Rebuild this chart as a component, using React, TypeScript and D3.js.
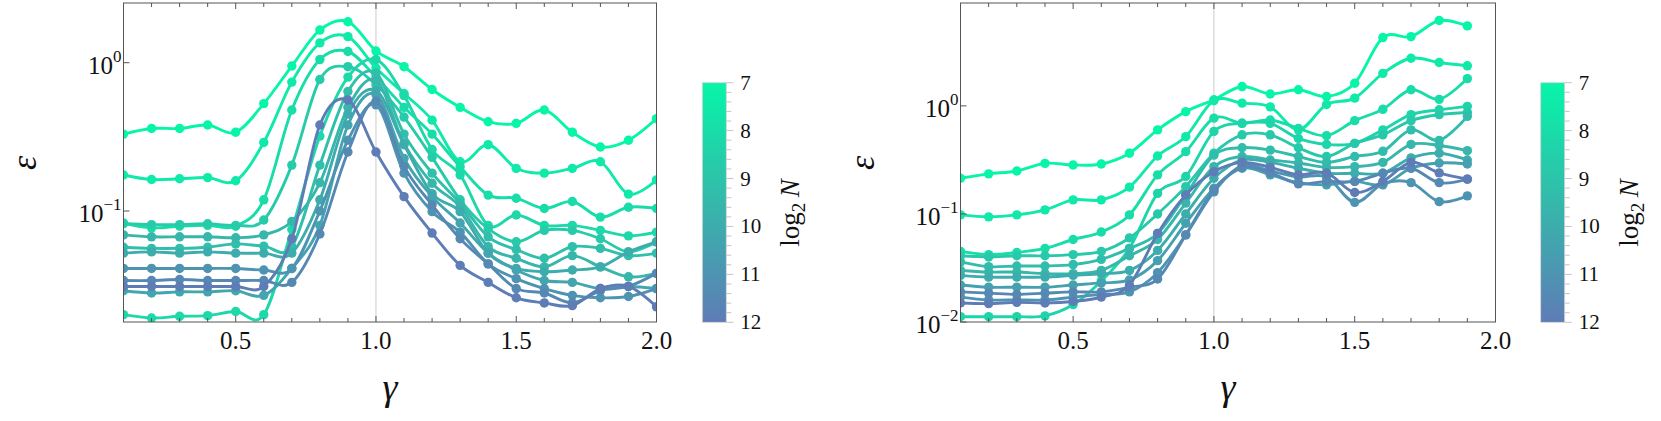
import React from "react";
import * as d3 from "d3";

// gamma grid of the two panels
const gammaLeft = [0.1, 0.2, 0.3, 0.4, 0.5, 0.6, 0.7, 0.8, 0.9, 1.0, 1.1, 1.2, 1.3, 1.4, 1.5, 1.6, 1.7, 1.8, 1.9, 2.0];
const gammaRight = [0.1, 0.2, 0.3, 0.4, 0.5, 0.6, 0.7, 0.8, 0.9, 1.0, 1.1, 1.2, 1.3, 1.4, 1.5, 1.6, 1.7, 1.8, 1.9];

// left panel, epsilon per curve
const leftA = [0.33, 0.36, 0.36, 0.38, 0.34, 0.53, 0.95, 1.66, 1.89, 1.2, 0.94, 0.66, 0.5, 0.4, 0.39, 0.48, 0.34, 0.27, 0.3, 0.42];
const leftB = [0.175, 0.163, 0.165, 0.168, 0.16, 0.29, 0.74, 1.36, 1.5, 0.92, 0.62, 0.41, 0.215, 0.28, 0.194, 0.18, 0.194, 0.215, 0.13, 0.162];
const leftC = [0.083, 0.077, 0.079, 0.08, 0.079, 0.119, 0.48, 1.05, 1.19, 0.8, 0.5, 0.33, 0.199, 0.128, 0.122, 0.104, 0.116, 0.091, 0.106, 0.104];
const leftD = [0.02, 0.019, 0.0195, 0.0197, 0.021, 0.02, 0.075, 0.32, 0.8, 1.05, 0.6, 0.26, 0.175, 0.08, 0.094, 0.08, 0.08, 0.074, 0.068, 0.072];
const leftE = [0.082, 0.081, 0.081, 0.082, 0.08, 0.087, 0.204, 0.77, 0.94, 0.71, 0.43, 0.23, 0.119, 0.076, 0.062, 0.074, 0.074, 0.065, 0.053, 0.062];
const leftF = [0.057, 0.056, 0.056, 0.057, 0.06, 0.058, 0.0575, 0.204, 0.64, 0.85, 0.33, 0.18, 0.113, 0.067, 0.055, 0.048, 0.0575, 0.056, 0.05, 0.052];
const leftG = [0.069, 0.067, 0.067, 0.067, 0.066, 0.069, 0.085, 0.155, 0.5, 0.76, 0.286, 0.154, 0.107, 0.0575, 0.048, 0.042, 0.05, 0.042, 0.036, 0.038];
const leftH = [0.052, 0.053, 0.052, 0.053, 0.052, 0.052, 0.052, 0.119, 0.45, 0.65, 0.28, 0.131, 0.099, 0.052, 0.041, 0.039, 0.04, 0.042, 0.053, 0.062];
const leftI = [0.029, 0.028, 0.0285, 0.0285, 0.029, 0.027, 0.041, 0.08, 0.38, 0.61, 0.226, 0.125, 0.083, 0.052, 0.04, 0.034, 0.033, 0.03, 0.031, 0.03];
const leftJ = [0.041, 0.041, 0.041, 0.041, 0.041, 0.04, 0.041, 0.1, 0.3, 0.52, 0.18, 0.099, 0.072, 0.044, 0.035, 0.03, 0.027, 0.026, 0.0265, 0.03];
const leftK = [0.034, 0.034, 0.0345, 0.034, 0.034, 0.034, 0.033, 0.07, 0.25, 0.55, 0.2, 0.11, 0.065, 0.044, 0.03, 0.028, 0.024, 0.029, 0.031, 0.038];
const leftL = [0.031, 0.031, 0.031, 0.031, 0.031, 0.031, 0.065, 0.38, 0.56, 0.25, 0.125, 0.071, 0.043, 0.033, 0.026, 0.024, 0.023, 0.03, 0.031, 0.0226];
const leftLog2N = [7, 7.5, 8, 8.2, 8.7, 9.2, 9.6, 10, 10.3, 11, 11.5, 12];

// right panel
const rightA = [0.214, 0.235, 0.25, 0.294, 0.284, 0.29, 0.365, 0.6, 0.885, 1.14, 1.51, 1.29, 1.41, 1.22, 1.62, 4.29, 4.38, 6.17, 5.5];
const rightB = [0.098, 0.094, 0.098, 0.109, 0.135, 0.135, 0.177, 0.344, 0.52, 1.12, 1.06, 0.98, 0.6, 1.03, 1.18, 2.0, 2.76, 2.52, 2.35];
const rightC = [0.045, 0.042, 0.044, 0.048, 0.058, 0.068, 0.098, 0.23, 0.377, 0.77, 0.69, 0.74, 0.62, 0.53, 0.73, 0.93, 1.41, 1.15, 1.79];
const rightD = [0.0112, 0.0112, 0.0112, 0.0114, 0.0145, 0.024, 0.048, 0.155, 0.222, 0.58, 0.69, 0.69, 0.5, 0.44, 0.45, 0.6, 0.83, 0.92, 0.99];
const rightE = [0.041, 0.04, 0.041, 0.041, 0.042, 0.045, 0.06, 0.1, 0.179, 0.365, 0.54, 0.54, 0.41, 0.34, 0.45, 0.54, 0.73, 0.83, 0.87];
const rightF = [0.036, 0.0325, 0.033, 0.033, 0.034, 0.038, 0.048, 0.066, 0.15, 0.35, 0.41, 0.39, 0.34, 0.3, 0.34, 0.38, 0.6, 0.48, 0.8];
const rightG = [0.03, 0.029, 0.029, 0.028, 0.028, 0.03, 0.041, 0.058, 0.126, 0.274, 0.34, 0.316, 0.296, 0.27, 0.274, 0.3, 0.44, 0.43, 0.385];
const rightH = [0.027, 0.026, 0.026, 0.026, 0.027, 0.028, 0.03, 0.046, 0.1, 0.214, 0.316, 0.3, 0.265, 0.238, 0.238, 0.238, 0.33, 0.365, 0.316];
const rightI = [0.022, 0.021, 0.021, 0.021, 0.022, 0.023, 0.0245, 0.037, 0.082, 0.173, 0.265, 0.23, 0.195, 0.186, 0.2, 0.186, 0.265, 0.296, 0.29];
const rightJ = [0.017, 0.016, 0.016, 0.016, 0.017, 0.018, 0.019, 0.0286, 0.064, 0.16, 0.28, 0.25, 0.22, 0.22, 0.128, 0.19, 0.195, 0.13, 0.147];
const rightK = [0.019, 0.0185, 0.018, 0.0185, 0.019, 0.019, 0.021, 0.025, 0.064, 0.167, 0.27, 0.24, 0.19, 0.2, 0.2, 0.238, 0.265, 0.195, 0.21];
const rightL = [0.015, 0.0148, 0.0152, 0.015, 0.0155, 0.017, 0.022, 0.066, 0.15, 0.246, 0.3, 0.27, 0.23, 0.24, 0.158, 0.2, 0.3, 0.24, 0.21];
const rightLog2N = [7, 7.5, 8, 8.3, 8.8, 9.3, 9.6, 10, 10.5, 11, 11.5, 12];

const xTicks = [0.5, 1.0, 1.5, 2.0];
const xTickLabels = ["0.5", "1.0", "1.5", "2.0"];
const leftYTicks = [1, 0.1];
const rightYTicks = [1, 0.1, 0.01];
const barTicks = [7, 8, 9, 10, 11, 12];

const serif = { fontFamily: "Liberation Serif" };
const plotTop = 3;
const plotBottom = 322;
const frame = "#555";

const color = d3.scaleLinear<string>()
    .domain([7, 9.5, 12])
    .range(["#06f5a8", "#35b8ab", "#5e7cb6"])
    .interpolate(d3.interpolateRgb);

function Panel({ id, gamma, series, log2N, x0, x1, yDomain, yTicks, epsX }: any) {
    const x = d3.scaleLinear().domain([0.1, 2.0]).range([x0, x1]);
    const y = d3.scaleLog().domain(yDomain).range([plotBottom, plotTop]);
    const line = d3.line<number>()
        .x((d, i) => x(gamma[i]))
        .y(d => y(d))
        .curve(d3.curveCatmullRom.alpha(0));

    return (
        <g>
            <clipPath id={"clip-" + id}>
                <rect x={x0} y={plotTop} width={x1 - x0} height={plotBottom - plotTop} />
            </clipPath>
            <line x1={x(1)} x2={x(1)} y1={plotTop} y2={plotBottom} stroke="#cccccc" strokeWidth={1} />
            <g clipPath={"url(#clip-" + id + ")"}>
                {series.map((s: number[], k: number) => {
                    const c = color(log2N[k]);
                    return (
                        <g key={k}>
                            <path d={line(s) || ""} fill="none" stroke={c} strokeWidth={2.9} strokeLinejoin="round" />
                            {s.map((d, i) => (
                                <circle key={i} cx={x(gamma[i])} cy={y(d)} r={4.7} fill={c} />
                            ))}
                        </g>
                    );
                })}
            </g>
            <rect x={x0} y={plotTop} width={x1 - x0} height={plotBottom - plotTop} fill="none" stroke={frame} strokeWidth={1} />
            {x.ticks(20).map(t => {
                const major = Math.abs(t * 2 - Math.round(t * 2)) < 1e-6;
                const len = major ? 6 : 4;
                return (
                    <g key={t}>
                        <line x1={x(t)} x2={x(t)} y1={plotBottom} y2={plotBottom - len} stroke={frame} />
                        <line x1={x(t)} x2={x(t)} y1={plotTop} y2={plotTop + len} stroke={frame} />
                    </g>
                );
            })}
            {xTicks.map((t, i) => (
                <text key={t} x={x(t)} y={349} textAnchor="middle" fontSize={25} fill="#111" style={serif}>
                    {xTickLabels[i]}
                </text>
            ))}
            {yTicks.map((t: number) => {
                const e = Math.round(Math.log10(t));
                return (
                    <g key={t}>
                        <line x1={x0} x2={x0 + 6} y1={y(t)} y2={y(t)} stroke={frame} />
                        <text x={x0 - 2} y={y(t) + 11} textAnchor="end" fontSize={25} fill="#111" style={serif}>
                            <tspan>10</tspan>
                            <tspan dy={-12} fontSize={17}>{e < 0 ? "\u2212" + (-e) : String(e)}</tspan>
                        </text>
                    </g>
                );
            })}
            <text transform={`translate(${epsX},163) rotate(-90)`} textAnchor="middle" fontSize={36}
                  fontStyle="italic" fill="#111" style={serif}>ε</text>
            <text x={x(1.05)} y={400} textAnchor="middle" fontSize={38} fontStyle="italic" fill="#111" style={serif}>γ</text>
        </g>
    );
}

function Colorbar({ id, bx }: any) {
    const bw = 24;
    const y = d3.scaleLinear().domain([7, 12]).range([82.7, 322.3]);
    const stops = y.ticks(10);
    return (
        <g>
            <defs>
                <linearGradient id={"grad-" + id} x1={0} x2={0} y1={0} y2={1}>
                    {stops.map(v => (
                        <stop key={v} offset={((v - 7) / 5) * 100 + "%"} stopColor={color(v)} />
                    ))}
                </linearGradient>
            </defs>
            <rect x={bx} y={y(7)} width={bw} height={y(12) - y(7)} fill={"url(#grad-" + id + ")"}
                  stroke="#d6d6d6" strokeWidth={0.8} />
            {y.ticks(25).map(t => {
                const major = Math.abs(t - Math.round(t)) < 1e-6;
                return <line key={t} x1={bx + bw} x2={bx + bw + (major ? 7 : 5)} y1={y(t)} y2={y(t)} stroke="#c4c4c4" />;
            })}
            {barTicks.map(t => (
                <text key={t} x={bx + bw + 14} y={y(t) + 7} fontSize={21} fill="#111" style={serif}>{t}</text>
            ))}
            <text transform={`translate(${bx + bw + 73},213) rotate(-90)`} textAnchor="middle" fontSize={27}
                  fill="#111" style={serif}>
                <tspan>log</tspan>
                <tspan dy={6} fontSize={19}>2</tspan>
                <tspan dy={-6}>{"\u2009"}</tspan>
                <tspan fontStyle="italic">N</tspan>
            </text>
        </g>
    );
}

export default function App() {
    return (
        <svg width={1661} height={421} style={{ position: "absolute", left: 0, top: 0, background: "#fff" }}>
            <Panel id="left" gamma={gammaLeft}
                   series={[leftA, leftB, leftC, leftD, leftE, leftF, leftG, leftH, leftI, leftJ, leftK, leftL]}
                   log2N={leftLog2N} x0={123.5} x1={656.5} yDomain={[0.01785, 2.527]} yTicks={leftYTicks} epsX={36} />
            <Colorbar id="left" bx={702.3} />
            <Panel id="right" gamma={gammaRight}
                   series={[rightA, rightB, rightC, rightD, rightE, rightF, rightG, rightH, rightI, rightJ, rightK, rightL]}
                   log2N={rightLog2N} x0={960.5} x1={1495.5} yDomain={[0.01, 8.96]} yTicks={rightYTicks} epsX={874} />
            <Colorbar id="right" bx={1540.7} />
        </svg>
    );
}
